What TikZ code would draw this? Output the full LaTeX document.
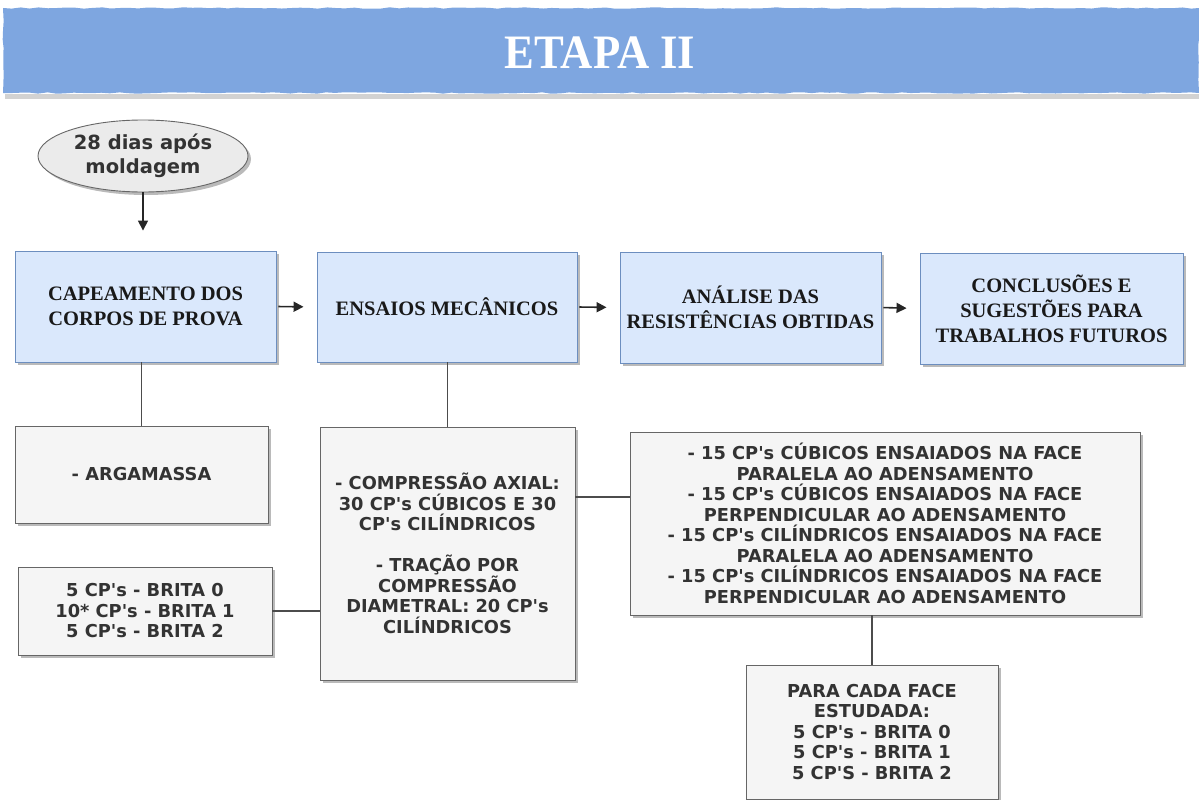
\documentclass[tikz,border=0pt]{standalone}
\usepackage{fontspec}
\setmainfont{Liberation Serif}
\newfontfamily\grayfont{DejaVu Sans}
\usetikzlibrary{shadows,arrows.meta,shapes.geometric,decorations.pathmorphing}

\definecolor{bannerblue}{HTML}{7EA6E0}
\definecolor{stepfill}{HTML}{DAE8FC}
\definecolor{stepline}{HTML}{6C8EBF}
\definecolor{notefill}{HTML}{F5F5F5}
\definecolor{noteline}{HTML}{666666}
\definecolor{notetext}{HTML}{333333}

\tikzset{
  boxshadow/.style={drop shadow={shadow xshift=3pt, shadow yshift=-3pt, fill=black!60, opacity=0.45}},
  stepbox/.style={draw=stepline, line width=0.9pt, fill=stepfill, boxshadow,
    inner sep=0pt, align=center, text=black!90,
    font=\fontsize{20.5}{25}\selectfont\bfseries},
  notebox/.style={draw=noteline, line width=0.9pt, fill=notefill, boxshadow,
    inner sep=0pt, align=center, text=notetext,
    font=\grayfont\fontsize{17.8}{20.5}\selectfont\bfseries},
  startnode/.style={ellipse, draw=noteline, line width=0.9pt, fill=black!8, boxshadow,
    inner sep=0pt, align=center, text=notetext,
    font=\grayfont\fontsize{19.5}{24.5}\selectfont\bfseries},
  flow/.style={-{Triangle[length=10pt,width=10pt]}, line width=1.6pt, black!85},
  link/.style={line width=1.3pt, black!70},
}

\begin{document}
\begin{tikzpicture}[x=1pt,y=-1pt]
\useasboundingbox (0,0) rectangle (1199,800);

% title banner
\fill[black!35, opacity=0.5] (5,94) rectangle (1199,99);
\fill[bannerblue, decorate, decoration={random steps, segment length=9pt, amplitude=0.7pt}]
  (3,8) -- (1199,8) -- (1199,93) -- (3,93) -- cycle;
\node[text=white, font=\fontsize{48}{50}\selectfont\bfseries] (title) at (600,53)
  {\scalebox{0.93}[1]{ETAPA II}};

% start
\node[startnode, minimum width=210pt, minimum height=72pt] (start) at (143,156)
  {28 dias após\\moldagem};

% main steps
\node[stepbox, minimum width=261pt, minimum height=111pt] (cap) at (145.5,306.5)
  {CAPEAMENTO DOS\\CORPOS DE PROVA};
\node[stepbox, minimum width=260pt, minimum height=110pt] (ens) at (447,307)
  {ENSAIOS MECÂNICOS};
\node[stepbox, minimum width=261pt, minimum height=111pt] (ana) at (750.5,307.5)
  {ANÁLISE DAS\\RESISTÊNCIAS OBTIDAS};
\node[stepbox, minimum width=263pt, minimum height=111pt] (con) at (1051.5,308.5)
  {CONCLUSÕES E\\SUGESTÕES PARA\\TRABALHOS FUTUROS};

% detail notes
\node[notebox, minimum width=253pt, minimum height=97pt] (arg) at (141.5,474.5)
  {- ARGAMASSA};
\node[notebox, minimum width=254pt, minimum height=88pt] (brita) at (145,611)
  {5 CP's - BRITA 0\\10* CP's - BRITA 1\\5 CP's - BRITA 2};
\node[notebox, minimum width=255pt, minimum height=253pt] (comp) at (447.5,553.5)
  {- COMPRESSÃO AXIAL:\\30 CP's CÚBICOS E 30\\CP's CILÍNDRICOS\\[20.5pt]- TRAÇÃO POR\\COMPRESSÃO\\DIAMETRAL: 20 CP's\\CILÍNDRICOS};
\node[notebox, minimum width=510pt, minimum height=183pt] (faces) at (885,523.5)
  {- 15 CP's CÚBICOS ENSAIADOS NA FACE\\PARALELA AO ADENSAMENTO\\- 15 CP's CÚBICOS ENSAIADOS NA FACE\\PERPENDICULAR AO ADENSAMENTO\\- 15 CP's CILÍNDRICOS ENSAIADOS NA FACE\\PARALELA AO ADENSAMENTO\\- 15 CP's CILÍNDRICOS ENSAIADOS NA FACE\\PERPENDICULAR AO ADENSAMENTO};
\node[notebox, minimum width=252pt, minimum height=134pt] (para) at (872,732)
  {PARA CADA FACE\\ESTUDADA:\\5 CP's - BRITA 0\\5 CP's - BRITA 1\\5 CP'S - BRITA 2};

% flow arrows
\draw[flow, shorten >=20pt] (start.south) -- (start.south |- cap.north);
\draw[flow, shorten <=2pt, shorten >=13pt] (cap.east) -- (ens.west);
\draw[flow, shorten <=2pt, shorten >=13pt] (ens.east) -- (ana.west);
\draw[flow, shorten <=2pt, shorten >=13pt] (ana.east) -- (con.west);

% links to the notes
\draw[link] (cap.south -| arg.north) -- (arg.north);
\draw[link] (ens.south -| comp.north) -- (comp.north);
\draw[link] (brita.east) -- (brita.east -| comp.west);
\coordinate (facein) at ([yshift=26.5pt]faces.west);
\draw[link] (comp.east |- facein) -- (facein);
\draw[link] (para.north |- faces.south) -- (para.north);
\end{tikzpicture}
\end{document}
